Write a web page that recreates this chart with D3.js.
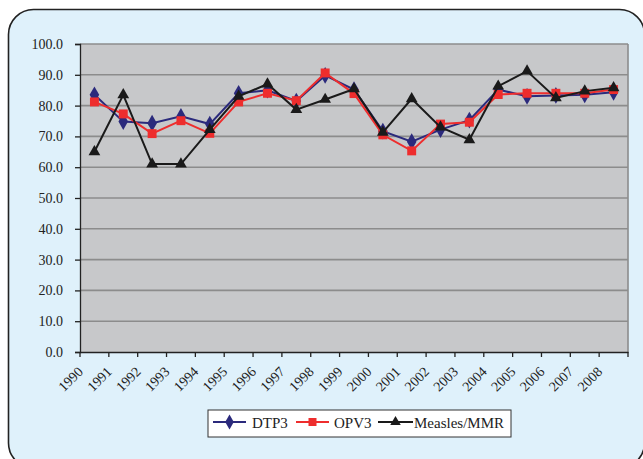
<!DOCTYPE html>
<html><head><meta charset="utf-8">
<script src="https://cdn.jsdelivr.net/npm/d3@7/dist/d3.min.js"></script>
<style>html,body{margin:0;padding:0;background:#fff;}svg{display:block;}</style>
</head><body>
<svg id="c" width="643" height="459"></svg>
<script>
const years = ["1990","1991","1992","1993","1994","1995","1996","1997","1998","1999","2000","2001","2002","2003","2004","2005","2006","2007","2008"];
const dtp3 = [83.5, 74.8, 74.3, 76.5, 74.0, 84.0, 85.0, 81.5, 89.8, 85.2, 71.7, 68.3, 72.2, 75.3, 85.2, 83.0, 83.3, 83.5, 84.3];
const opv3 = [81.2, 77.3, 70.9, 75.1, 71.0, 81.2, 84.0, 81.6, 90.6, 83.9, 70.5, 65.3, 74.0, 74.6, 83.6, 84.0, 84.0, 84.0, 85.2];
const measles = [65.0, 83.5, 61.0, 61.0, 72.2, 83.0, 87.0, 78.7, 82.0, 85.4, 71.3, 82.2, 73.0, 68.9, 86.3, 91.2, 82.5, 84.7, 85.8];
const yTicks = [0,10,20,30,40,50,60,70,80,90,100];
const seriesNames = ["DTP3","OPV3","Measles/MMR"];

const svg = d3.select("#c");
const font = "'Liberation Serif','Times New Roman',serif";
// frame
svg.append("rect").attr("x",8.5).attr("y",9.5).attr("width",636).attr("height",458.5)
  .attr("rx",25).attr("ry",25).attr("fill","#dff1fb").attr("stroke","#222").attr("stroke-width",1.6);

const L=80, R=628, T=44, B=352;
const x = d3.scaleBand().domain(years).range([L,R]).paddingInner(0).paddingOuter(0);
const y = d3.scaleLinear().domain([0,100]).range([B,T]);

svg.append("rect").attr("x",L).attr("y",T).attr("width",R-L).attr("height",B-T).attr("fill","#c7c8ca");
// gridlines
svg.append("g").selectAll("line").data(yTicks.filter(d=>d>0)).join("line")
  .attr("x1",L).attr("x2",R).attr("y1",d=>y(d)).attr("y2",d=>y(d))
  .attr("stroke","#8c8c8c").attr("stroke-width",1.6);
// plot border right
svg.append("line").attr("x1",R).attr("x2",R).attr("y1",T).attr("y2",B).attr("stroke","#8c8c8c").attr("stroke-width",1.6);

// y axis
const yAxis = d3.axisLeft(y).tickValues(yTicks).tickFormat(d3.format(".1f")).tickSize(5).tickPadding(12);
const gy = svg.append("g").attr("transform",`translate(${L},0)`).call(yAxis);
gy.select(".domain").attr("stroke","#222").attr("stroke-width",1.3);
gy.selectAll(".tick line").attr("stroke","#222").attr("stroke-width",1.3);
gy.selectAll("text").attr("font-family",font).attr("font-size",14).attr("fill","#222");

// x axis
const xAxis = d3.axisBottom(x).tickSize(0).tickFormat("");
const gx = svg.append("g").attr("transform",`translate(0,${B})`).call(xAxis);
gx.select(".domain").attr("stroke","#222").attr("stroke-width",1.3);
gx.selectAll(".tick").remove();
// boundary ticks
const bounds = years.map(d=>x(d)).concat([R]);
svg.append("g").selectAll("line").data(bounds).join("line")
  .attr("x1",d=>d).attr("x2",d=>d).attr("y1",B).attr("y2",B+5).attr("stroke","#222").attr("stroke-width",1.3);
svg.append("g").selectAll("text").data(years).join("text")
  .attr("transform",d=>`translate(${x(d)+x.bandwidth()/2-10.5},${B+20.5}) rotate(-45)`)
  .attr("text-anchor","end").attr("font-family",font).attr("font-size",14).attr("fill","#222").text(d=>d);

const cx = d => x(d)+x.bandwidth()/2;
const series = [
  {name:seriesNames[0], vals:dtp3, color:"#2b2a7c", sym:d3.symbolDiamond, size:80},
  {name:seriesNames[1], vals:opv3, color:"#ee2d2d", sym:d3.symbolSquare, size:80},
  {name:seriesNames[2], vals:measles, color:"#1a1a1a", sym:d3.symbolTriangle, size:60},
];
const line = d3.line().x((d,i)=>cx(years[i])).y(d=>y(d));
series.forEach(s=>{
  svg.append("path").datum(s.vals).attr("d",line).attr("fill","none").attr("stroke",s.color).attr("stroke-width",2);
  svg.append("g").selectAll("path").data(s.vals).join("path")
    .attr("d",d3.symbol().type(s.sym).size(s.size))
    .attr("transform",(d,i)=>`translate(${cx(years[i])},${y(d)})`)
    .attr("fill",s.color);
});

// legend
const lg = svg.append("g");
lg.append("rect").attr("x",208).attr("y",410).attr("width",303).attr("height",27).attr("fill","#fff").attr("stroke","#333").attr("stroke-width",1);
const legPos = [{x1:213,x2:246,tx:252},{x1:296,x2:329,tx:334},{x1:378,x2:413,tx:414}];
series.forEach((s,i)=>{
  const p = legPos[i];
  lg.append("line").attr("x1",p.x1).attr("x2",p.x2).attr("y1",422).attr("y2",422).attr("stroke",s.color).attr("stroke-width",2);
  lg.append("path").attr("d",d3.symbol().type(s.sym).size(s.size*0.8)).attr("transform",`translate(${(p.x1+p.x2)/2},422)`).attr("fill",s.color);
  lg.append("text").attr("x",p.tx).attr("y",428).attr("font-family",font).attr("font-size",15).attr("fill","#222").text(s.name);
});
</script>
</body></html>
